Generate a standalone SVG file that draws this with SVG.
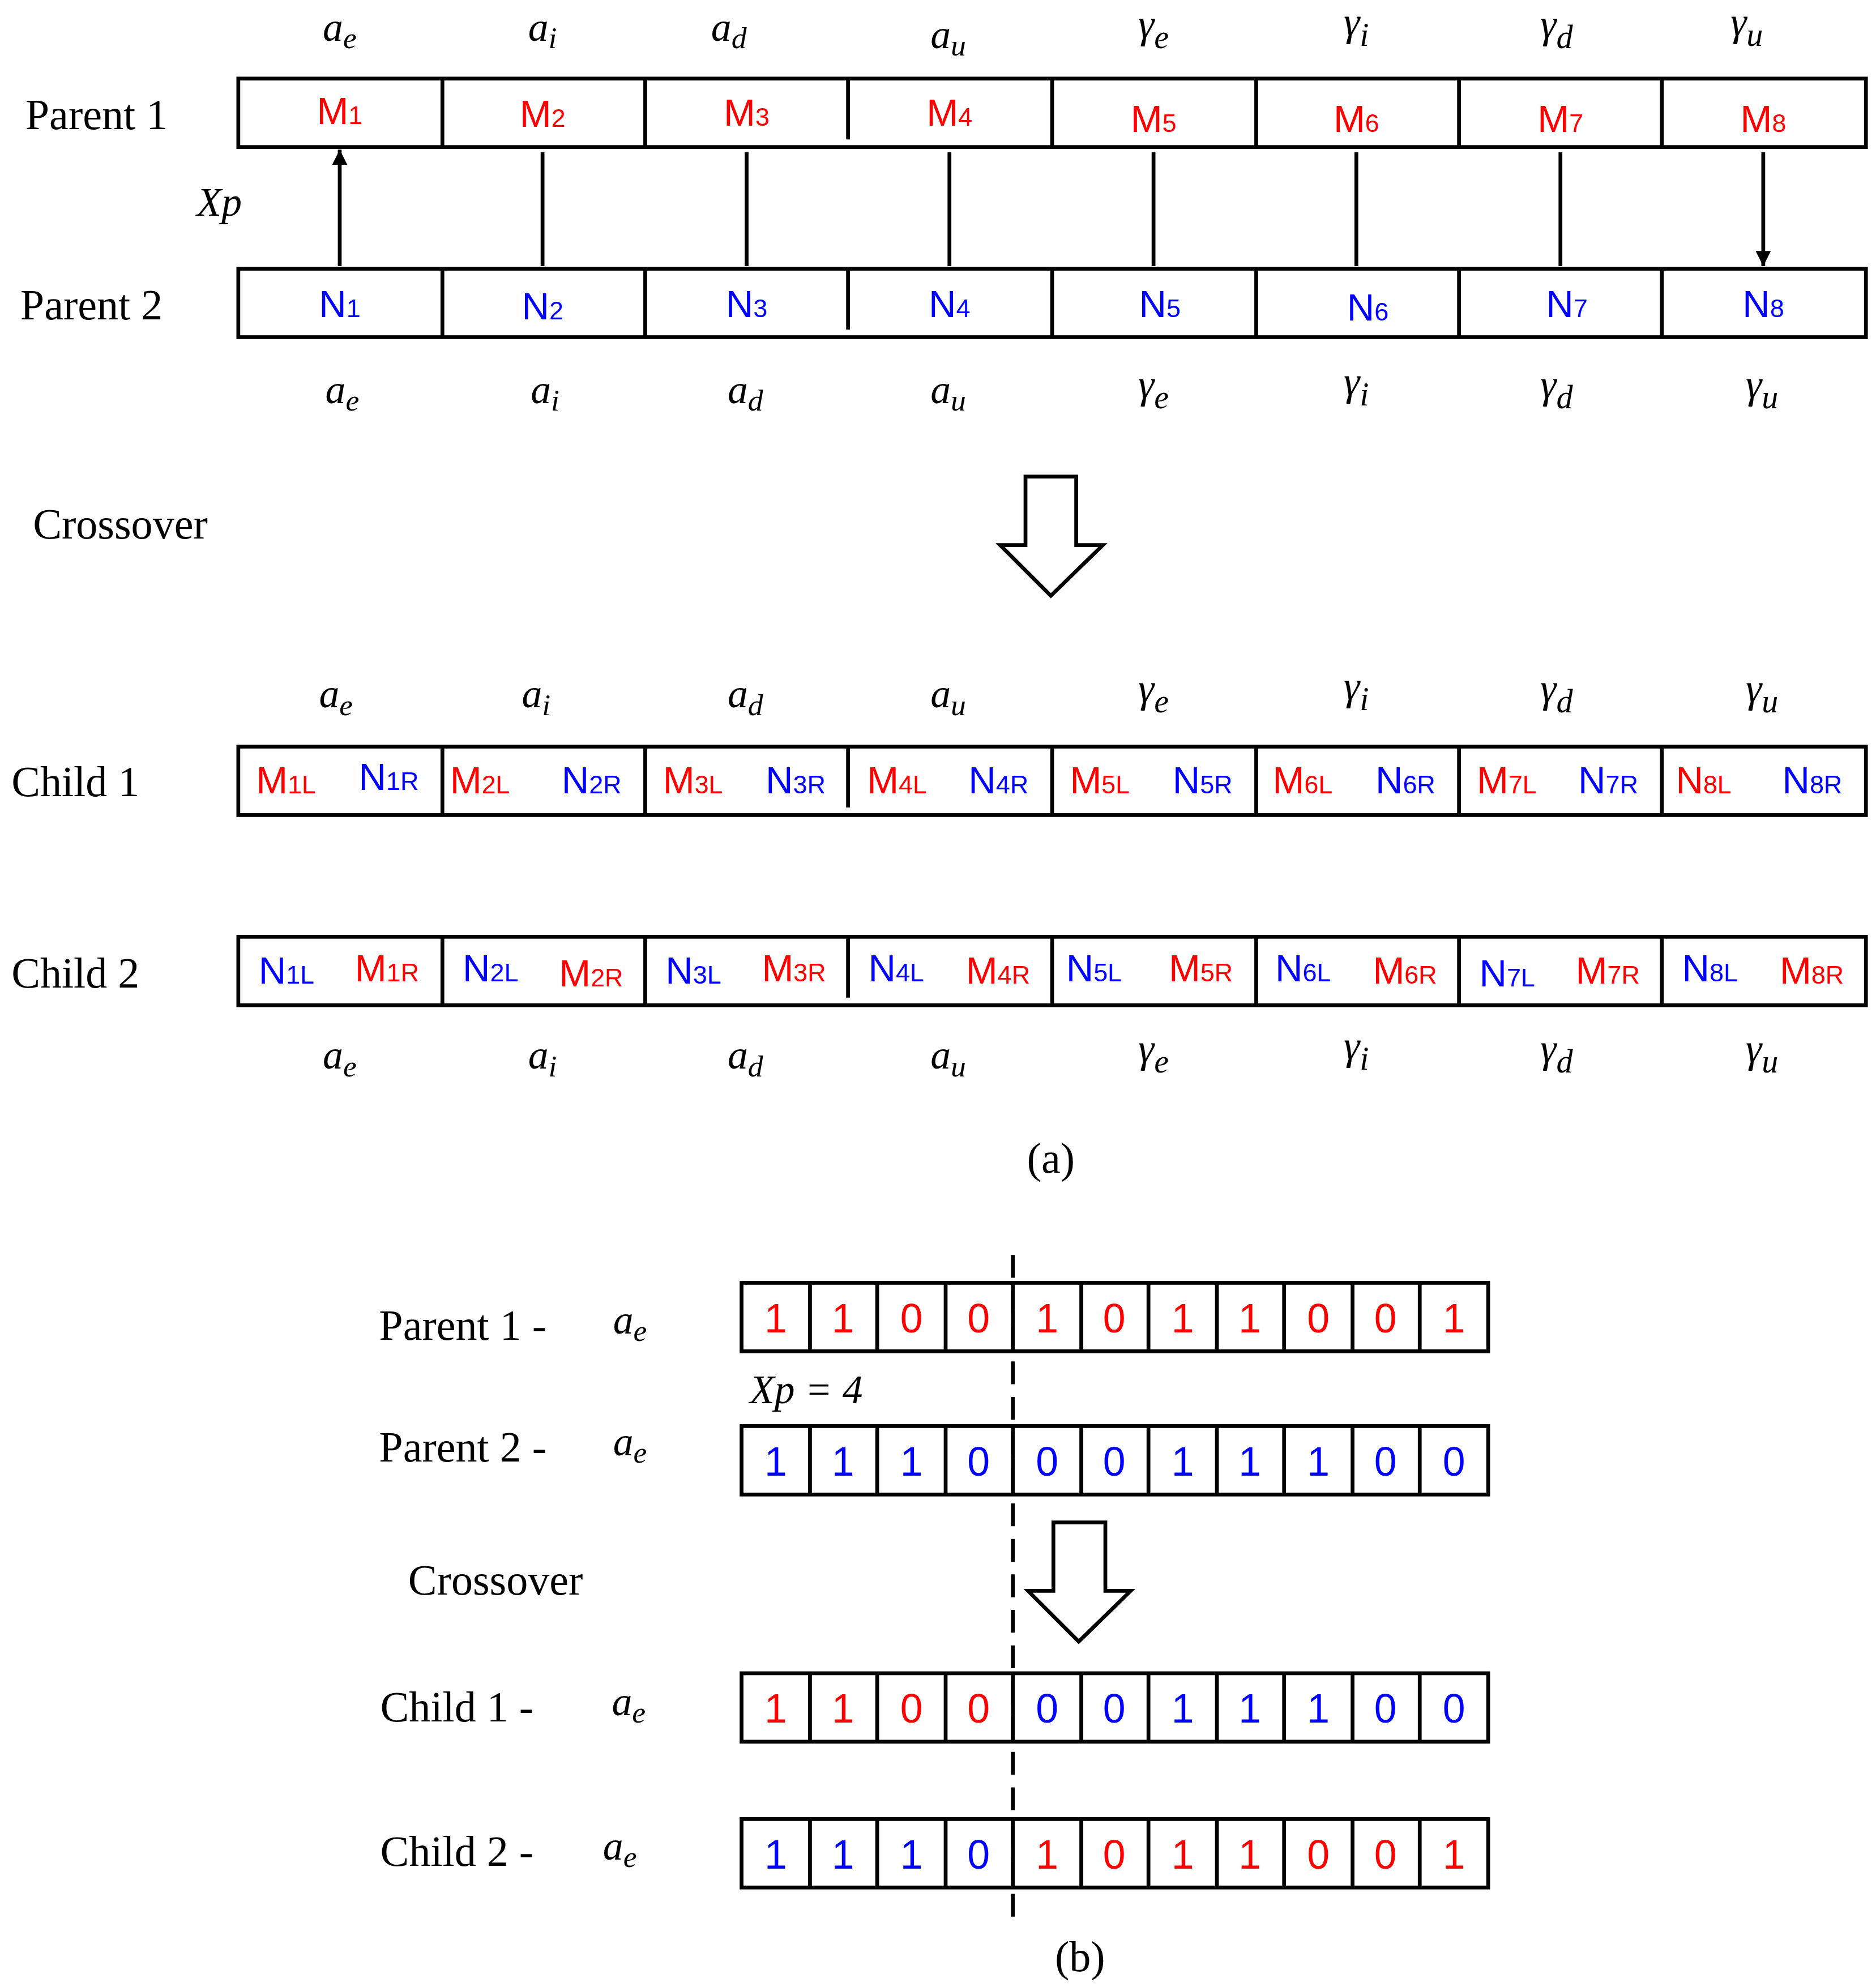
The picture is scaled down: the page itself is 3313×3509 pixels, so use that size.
<svg xmlns="http://www.w3.org/2000/svg" width="3313" height="3509" viewBox="0 0 3313 3509">
<defs>
<style>
.bx{fill:none;stroke:#000;stroke-width:3}
.ln{stroke:#000;stroke-width:3}
.lb{font-family:"Liberation Serif",serif;font-size:34px;fill:#000}
.mt{font-family:"Liberation Serif",serif;font-style:italic;font-size:32px;fill:#000;text-anchor:middle}
.r{font-family:"Liberation Sans",sans-serif;font-size:30px;fill:#f00}
.b{font-family:"Liberation Sans",sans-serif;font-size:30px;fill:#00f}
.d{font-family:"Liberation Sans",sans-serif;font-size:32px;text-anchor:middle}
.hl{fill:#fff;stroke:#000;stroke-width:3}
</style>
<marker id="ah" viewBox="0 0 10 10" refX="10" refY="5" markerWidth="4" markerHeight="5" markerUnits="strokeWidth" orient="auto-start-reverse"><path d="M0,0L10,5L0,10z" fill="#000"/></marker>
</defs>
<rect width="3313" height="3509" fill="#fff"/>
<g transform="scale(2.2386)">
<g id="labels-a">
<text class="lb" x="20" y="102">Parent 1</text>
<text class="lb" x="16" y="252">Parent 2</text>
<text class="lb" x="26" y="425">Crossover</text>
<text class="lb" x="9" y="628">Child 1</text>
<text class="lb" x="9" y="779">Child 2</text>
<text class="mt" x="173" y="170">Xp</text>
<text class="lb" x="829" y="925" text-anchor="middle">(a)</text>
</g>
<g id="vars" class="mt">
<text x="268" y="32">a<tspan font-size="24" dy="6">e</tspan></text>
<text x="428" y="32">a<tspan font-size="24" dy="6">i</tspan></text>
<text x="575" y="32">a<tspan font-size="24" dy="6">d</tspan></text>
<text x="748" y="38">a<tspan font-size="24" dy="6">u</tspan></text>
<text x="910" y="30">γ<tspan font-size="26" dy="8">e</tspan></text>
<text x="1070" y="28">γ<tspan font-size="26" dy="8">i</tspan></text>
<text x="1228" y="30">γ<tspan font-size="26" dy="8">d</tspan></text>
<text x="1378" y="28">γ<tspan font-size="26" dy="8">u</tspan></text>
<text x="270" y="318">a<tspan font-size="24" dy="6">e</tspan></text>
<text x="430" y="318">a<tspan font-size="24" dy="6">i</tspan></text>
<text x="588" y="318">a<tspan font-size="24" dy="6">d</tspan></text>
<text x="748" y="318">a<tspan font-size="24" dy="6">u</tspan></text>
<text x="910" y="314">γ<tspan font-size="26" dy="8">e</tspan></text>
<text x="1070" y="312">γ<tspan font-size="26" dy="8">i</tspan></text>
<text x="1228" y="314">γ<tspan font-size="26" dy="8">d</tspan></text>
<text x="1390" y="314">γ<tspan font-size="26" dy="8">u</tspan></text>
<text x="265" y="558">a<tspan font-size="24" dy="6">e</tspan></text>
<text x="423" y="558">a<tspan font-size="24" dy="6">i</tspan></text>
<text x="588" y="558">a<tspan font-size="24" dy="6">d</tspan></text>
<text x="748" y="558">a<tspan font-size="24" dy="6">u</tspan></text>
<text x="910" y="554">γ<tspan font-size="26" dy="8">e</tspan></text>
<text x="1070" y="552">γ<tspan font-size="26" dy="8">i</tspan></text>
<text x="1228" y="554">γ<tspan font-size="26" dy="8">d</tspan></text>
<text x="1390" y="554">γ<tspan font-size="26" dy="8">u</tspan></text>
<text x="268" y="843">a<tspan font-size="24" dy="6">e</tspan></text>
<text x="428" y="843">a<tspan font-size="24" dy="6">i</tspan></text>
<text x="588" y="843">a<tspan font-size="24" dy="6">d</tspan></text>
<text x="748" y="843">a<tspan font-size="24" dy="6">u</tspan></text>
<text x="910" y="838">γ<tspan font-size="26" dy="8">e</tspan></text>
<text x="1070" y="836">γ<tspan font-size="26" dy="8">i</tspan></text>
<text x="1228" y="838">γ<tspan font-size="26" dy="8">d</tspan></text>
<text x="1390" y="838">γ<tspan font-size="26" dy="8">u</tspan></text>
</g>
<g id="parent1">
<rect class="bx" x="188" y="62" width="1284" height="54"/>
<path class="ln" d="M349,62V116M509,62V116M669,62V110M830,62V116M991,62V116M1151,62V116M1311,62V116"/>
<g class="r" text-anchor="middle">
<text x="268" y="98">M<tspan font-size="20">1</tspan></text><text x="428" y="100">M<tspan font-size="20">2</tspan></text><text x="589" y="99">M<tspan font-size="20">3</tspan></text><text x="749" y="99">M<tspan font-size="20">4</tspan></text><text x="910" y="104">M<tspan font-size="20">5</tspan></text><text x="1070" y="104">M<tspan font-size="20">6</tspan></text><text x="1231" y="104">M<tspan font-size="20">7</tspan></text><text x="1391" y="104">M<tspan font-size="20">8</tspan></text>
</g></g>
<g id="parent2">
<rect class="bx" x="188" y="212" width="1284" height="54"/>
<path class="ln" d="M349,212V266M509,212V266M669,212V260M830,212V266M991,212V266M1151,212V266M1311,212V266"/>
<g class="b" text-anchor="middle">
<text x="268" y="250">N<tspan font-size="20">1</tspan></text><text x="428" y="252">N<tspan font-size="20">2</tspan></text><text x="589" y="250">N<tspan font-size="20">3</tspan></text><text x="749" y="250">N<tspan font-size="20">4</tspan></text><text x="915" y="250">N<tspan font-size="20">5</tspan></text><text x="1079" y="253">N<tspan font-size="20">6</tspan></text><text x="1236" y="250">N<tspan font-size="20">7</tspan></text><text x="1391" y="250">N<tspan font-size="20">8</tspan></text>
</g></g>
<g id="child1">
<rect class="bx" x="188" y="589" width="1284" height="54"/>
<path class="ln" d="M349,589V643M509,589V643M669,589V637M830,589V643M991,589V643M1151,589V643M1311,589V643"/>
<g class="r">
<text x="202" y="626">M<tspan font-size="20">1L</tspan></text><text x="355" y="626">M<tspan font-size="20">2L</tspan></text><text x="523" y="626">M<tspan font-size="20">3L</tspan></text><text x="684" y="626">M<tspan font-size="20">4L</tspan></text><text x="844" y="626">M<tspan font-size="20">5L</tspan></text><text x="1004" y="626">M<tspan font-size="20">6L</tspan></text><text x="1165" y="626">M<tspan font-size="20">7L</tspan></text>
</g>
<g class="b">
<text x="283" y="623">N<tspan font-size="20">1R</tspan></text><text x="443" y="626">N<tspan font-size="20">2R</tspan></text><text x="604" y="626">N<tspan font-size="20">3R</tspan></text><text x="764" y="626">N<tspan font-size="20">4R</tspan></text><text x="925" y="626">N<tspan font-size="20">5R</tspan></text><text x="1085" y="626">N<tspan font-size="20">6R</tspan></text><text x="1245" y="626">N<tspan font-size="20">7R</tspan></text><text x="1406" y="626">N<tspan font-size="20">8R</tspan></text>
</g>
<text class="r" x="1322" y="626">N<tspan font-size="20">8L</tspan></text>
</g>
<g id="child2">
<rect class="bx" x="188" y="739" width="1284" height="54"/>
<path class="ln" d="M349,739V793M509,739V793M669,739V787M830,739V793M991,739V793M1151,739V793M1311,739V793"/>
<g class="b">
<text x="204" y="776">N<tspan font-size="20">1L</tspan></text><text x="365" y="774">N<tspan font-size="20">2L</tspan></text><text x="525" y="776">N<tspan font-size="20">3L</tspan></text><text x="685" y="774">N<tspan font-size="20">4L</tspan></text><text x="841" y="774">N<tspan font-size="20">5L</tspan></text><text x="1006" y="774">N<tspan font-size="20">6L</tspan></text><text x="1167" y="778">N<tspan font-size="20">7L</tspan></text><text x="1327" y="774">N<tspan font-size="20">8L</tspan></text>
</g>
<g class="r">
<text x="280" y="774">M<tspan font-size="20">1R</tspan></text><text x="441" y="778">M<tspan font-size="20">2R</tspan></text><text x="601" y="774">M<tspan font-size="20">3R</tspan></text><text x="762" y="776">M<tspan font-size="20">4R</tspan></text><text x="922" y="774">M<tspan font-size="20">5R</tspan></text><text x="1083" y="776">M<tspan font-size="20">6R</tspan></text><text x="1243" y="776">M<tspan font-size="20">7R</tspan></text><text x="1404" y="776">M<tspan font-size="20">8R</tspan></text>
</g></g>
<g id="connectors">
<path class="ln" marker-start="url(#ah)" marker-end="url(#ah)" d="M268,118V210M428,120V210M589,120V210M749,120V210M910,120V210M1070,120V210M1231,120V210M1391,120V210"/>
<path class="hl" d="M809,376H849V430H870L829,470L789,430H809Z"/>
<path class="hl" d="M831,1201H872V1255H892L851,1295L811,1255H831Z"/>
<path class="ln" stroke-dasharray="18,10" d="M799,990V1515"/>
</g>
<g id="labels-b">
<text class="lb" x="299" y="1057">Parent 1 -</text>
<text class="lb" x="299" y="1153">Parent 2 -</text>
<text class="lb" x="322" y="1258">Crossover</text>
<text class="lb" x="300" y="1358">Child 1 -</text>
<text class="lb" x="300" y="1472">Child 2 -</text>
<text class="mt" x="497" y="1052">a<tspan font-size="24" dy="6">e</tspan></text>
<text class="mt" x="497" y="1148">a<tspan font-size="24" dy="6">e</tspan></text>
<text class="mt" x="496" y="1353">a<tspan font-size="24" dy="6">e</tspan></text>
<text class="mt" x="489" y="1467">a<tspan font-size="24" dy="6">e</tspan></text>
<text class="mt" x="636" y="1107"><tspan>Xp = 4</tspan></text>
<text class="lb" x="852" y="1555" text-anchor="middle">(b)</text>
</g>
<g id="bp1">
<rect class="bx" x="585" y="1012" width="589" height="54"/>
<path class="ln" d="M639,1012v54M692,1012v54M746,1012v54M799,1012v54M853,1012v54M906,1012v54M960,1012v54M1013,1012v54M1067,1012v54M1120,1012v54"/>
<g class="d" fill="#f00"><text x="612" y="1051">1</text><text x="665" y="1051">1</text><text x="719" y="1051">0</text><text x="772" y="1051">0</text><text x="826" y="1051">1</text><text x="879" y="1051">0</text><text x="933" y="1051">1</text><text x="986" y="1051">1</text><text x="1040" y="1051">0</text><text x="1093" y="1051">0</text><text x="1147" y="1051">1</text></g>
</g>
<g id="bp2">
<rect class="bx" x="585" y="1125" width="589" height="54"/>
<path class="ln" d="M639,1125v54M692,1125v54M746,1125v54M799,1125v54M853,1125v54M906,1125v54M960,1125v54M1013,1125v54M1067,1125v54M1120,1125v54"/>
<g class="d" fill="#00f"><text x="612" y="1164">1</text><text x="665" y="1164">1</text><text x="719" y="1164">1</text><text x="772" y="1164">0</text><text x="826" y="1164">0</text><text x="879" y="1164">0</text><text x="933" y="1164">1</text><text x="986" y="1164">1</text><text x="1040" y="1164">1</text><text x="1093" y="1164">0</text><text x="1147" y="1164">0</text></g>
</g>
<g id="bc1">
<rect class="bx" x="585" y="1320" width="589" height="54"/>
<path class="ln" d="M639,1320v54M692,1320v54M746,1320v54M799,1320v54M853,1320v54M906,1320v54M960,1320v54M1013,1320v54M1067,1320v54M1120,1320v54"/>
<g class="d" fill="#f00"><text x="612" y="1359">1</text><text x="665" y="1359">1</text><text x="719" y="1359">0</text><text x="772" y="1359">0</text></g>
<g class="d" fill="#00f"><text x="826" y="1359">0</text><text x="879" y="1359">0</text><text x="933" y="1359">1</text><text x="986" y="1359">1</text><text x="1040" y="1359">1</text><text x="1093" y="1359">0</text><text x="1147" y="1359">0</text></g>
</g>
<g id="bc2">
<rect class="bx" x="585" y="1435" width="589" height="54"/>
<path class="ln" d="M639,1435v54M692,1435v54M746,1435v54M799,1435v54M853,1435v54M906,1435v54M960,1435v54M1013,1435v54M1067,1435v54M1120,1435v54"/>
<g class="d" fill="#00f"><text x="612" y="1474">1</text><text x="665" y="1474">1</text><text x="719" y="1474">1</text><text x="772" y="1474">0</text></g>
<g class="d" fill="#f00"><text x="826" y="1474">1</text><text x="879" y="1474">0</text><text x="933" y="1474">1</text><text x="986" y="1474">1</text><text x="1040" y="1474">0</text><text x="1093" y="1474">0</text><text x="1147" y="1474">1</text></g>
</g>
</g>
</svg>
